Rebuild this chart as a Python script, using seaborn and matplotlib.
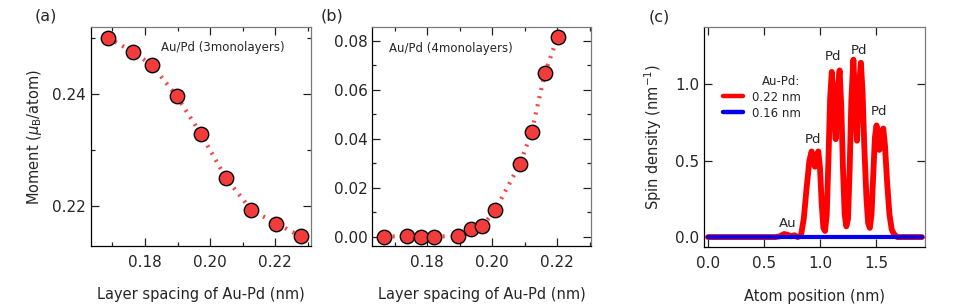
import numpy as np
import pandas as pd
import matplotlib
matplotlib.use("Agg")
import matplotlib.pyplot as plt
from matplotlib.ticker import MultipleLocator, FormatStrFormatter
import seaborn as sns

# ---------------- data ----------------
# (a) Au/Pd 3 monolayers
spacing_a = [0.1685, 0.1762, 0.1821, 0.1897, 0.1972, 0.2048, 0.2127, 0.2204, 0.2280]
moment_a = [0.2501, 0.2476, 0.2452, 0.2397, 0.2329, 0.2251, 0.2193, 0.2169, 0.2146]

# (b) Au/Pd 4 monolayers
spacing_b = [0.1668, 0.1738, 0.1781, 0.1820, 0.1894, 0.1934, 0.1970, 0.2009,
             0.2085, 0.2121, 0.2162, 0.2201]
moment_b = [0.0000, 0.0003, 0.0000, 0.0000, 0.0004, 0.0033, 0.0044, 0.0109,
            0.0297, 0.0427, 0.0669, 0.0815]

# (c) spin density profiles
pos_022 = [0.00, 0.60, 0.64, 0.68, 0.71, 0.74, 0.77, 0.80, 0.83, 0.855, 0.88,
           0.905, 0.925, 0.94, 0.955, 0.97, 0.985, 1.00, 1.015, 1.03, 1.045,
           1.06, 1.075, 1.09, 1.105, 1.125, 1.14, 1.155, 1.175, 1.19, 1.205,
           1.22, 1.235, 1.25, 1.265, 1.28, 1.298, 1.315, 1.33, 1.345, 1.365,
           1.38, 1.395, 1.415, 1.43, 1.445, 1.46, 1.475, 1.49, 1.505, 1.52,
           1.53, 1.545, 1.565, 1.58, 1.60, 1.62, 1.64, 1.66, 1.69, 1.91]
dens_022 = [0.0, 0.0, 0.005, 0.02, 0.015, 0.005, 0.012, 0.0, 0.01, 0.12, 0.32,
            0.50, 0.56, 0.50, 0.46, 0.53, 0.56, 0.45, 0.22, 0.06, 0.04,
            0.15, 0.50, 0.90, 1.08, 0.80, 0.64, 0.95, 1.09, 0.85, 0.45,
            0.15, 0.07, 0.12, 0.45, 0.90, 1.16, 0.85, 0.63, 0.95, 1.14,
            0.95, 0.60, 0.25, 0.09, 0.06, 0.15, 0.40, 0.65, 0.73, 0.62,
            0.57, 0.68, 0.71, 0.60, 0.35, 0.15, 0.05, 0.02, 0.0, 0.0]
pos_016 = [0.00, 1.91]
dens_016 = [0.0, 0.0]
series_labels = ["0.22 nm", "0.16 nm"]

peak_labels = ["Au", "Pd", "Pd", "Pd", "Pd"]
peak_x = [0.71, 0.94, 1.12, 1.35, 1.53]
peak_y = [0.09, 0.64, 1.18, 1.22, 0.82]

# ---------------- style ----------------
sns.set_theme(style="ticks")
plt.rcParams["font.family"] = ["DejaVu Sans"]
plt.rcParams["axes.linewidth"] = 0.9

RED_FILL = "#f23c3c"
RED_DOT = "#f24a4a"

fig = plt.figure(figsize=(9.70, 3.08), dpi=100)
ax_a = fig.add_axes([0.0938, 0.2013, 0.2268, 0.711])
ax_b = fig.add_axes([0.3838, 0.2013, 0.2252, 0.711])
ax_c = fig.add_axes([0.7258, 0.1990, 0.2278, 0.714])


def style_axes(ax, minor_x=None, minor_y=None):
    for s in ["left", "bottom"]:
        ax.spines[s].set_color("black")
    for s in ["top", "right"]:
        ax.spines[s].set_color("#7a7a7a")
    ax.tick_params(which="both", direction="in", top=True, right=True,
                   color="#222222", labelsize=11)
    ax.tick_params(which="major", length=6, width=0.9)
    ax.tick_params(which="minor", length=3.2, width=0.9)
    ax.tick_params(axis="x", which="major", pad=6.5)
    ax.tick_params(axis="y", which="major", pad=3.5)
    if minor_x:
        ax.xaxis.set_minor_locator(MultipleLocator(minor_x))
    if minor_y:
        ax.yaxis.set_minor_locator(MultipleLocator(minor_y))


def dotted(ax, x, y):
    sns.lineplot(x=x, y=y, ax=ax, color=RED_DOT, linestyle=(0, (0.5, 1.5)),
                 lw=3.0, estimator=None, sort=True)


# (a)
dotted(ax_a, spacing_a, moment_a)
sns.scatterplot(x=spacing_a, y=moment_a, ax=ax_a, s=108, color=RED_FILL,
                edgecolor="black", linewidth=1.0, zorder=3)
ax_a.set_xlim(0.1634, 0.2310)
ax_a.set_ylim(0.2129, 0.2520)
ax_a.xaxis.set_major_locator(MultipleLocator(0.02))
ax_a.yaxis.set_major_locator(MultipleLocator(0.02))
ax_a.xaxis.set_major_formatter(FormatStrFormatter("%.2f"))
ax_a.yaxis.set_major_formatter(FormatStrFormatter("%.2f"))
style_axes(ax_a, 0.01, 0.01)
ax_a.set_xlabel("Layer spacing of Au-Pd (nm)", fontsize=10.5, labelpad=12)
ax_a.set_ylabel(r"Moment ($\mu_{\rm B}$/atom)", fontsize=10.5, labelpad=6)
ax_a.text(0.318, 0.905, "Au/Pd (3monolayers)", transform=ax_a.transAxes,
          fontsize=8.5, va="center", ha="left")
fig.text(0.047, 0.948, "(a)", fontsize=11.5, ha="center", va="center")

# (b)
dotted(ax_b, spacing_b, moment_b)
sns.scatterplot(x=spacing_b, y=moment_b, ax=ax_b, s=108, color=RED_FILL,
                edgecolor="black", linewidth=1.0, zorder=3)
ax_b.set_xlim(0.1631, 0.2303)
ax_b.set_ylim(-0.0038, 0.0857)
ax_b.xaxis.set_major_locator(MultipleLocator(0.02))
ax_b.yaxis.set_major_locator(MultipleLocator(0.02))
ax_b.xaxis.set_major_formatter(FormatStrFormatter("%.2f"))
ax_b.yaxis.set_major_formatter(FormatStrFormatter("%.2f"))
style_axes(ax_b, 0.01, 0.01)
ax_b.set_xlabel("Layer spacing of Au-Pd (nm)", fontsize=10.5, labelpad=12)
ax_b.set_ylabel("")
ax_b.text(0.076, 0.904, "Au/Pd (4monolayers)", transform=ax_b.transAxes,
          fontsize=8.5, va="center", ha="left")
fig.text(0.342, 0.948, "(b)", fontsize=11.5, ha="center", va="center")

# (c)
df_c = pd.DataFrame({
    "pos": pos_022 + pos_016,
    "dens": dens_022 + dens_016,
    "series": [series_labels[0]] * len(pos_022) + [series_labels[1]] * len(pos_016),
})
sns.lineplot(data=df_c, x="pos", y="dens", hue="series", hue_order=series_labels,
             palette={series_labels[0]: "#ff0000", series_labels[1]: "#0000ee"},
             ax=ax_c, lw=3.2, estimator=None, sort=False)
lines_c = ax_c.get_lines()
if len(lines_c) >= 2:
    lines_c[0].set_linewidth(4.2)
    lines_c[0].set_solid_joinstyle("round")
    lines_c[1].set_linewidth(3.0)
ax_c.set_xlim(-0.036, 1.9375)
ax_c.set_ylim(-0.063, 1.375)
ax_c.xaxis.set_major_locator(MultipleLocator(0.5))
ax_c.yaxis.set_major_locator(MultipleLocator(0.5))
ax_c.xaxis.set_major_formatter(FormatStrFormatter("%.1f"))
ax_c.yaxis.set_major_formatter(FormatStrFormatter("%.1f"))
style_axes(ax_c)
ax_c.set_xlabel("Atom position (nm)", fontsize=10.5, labelpad=13)
ax_c.set_ylabel(r"Spin density (nm$^{-1}$)", fontsize=10.5, labelpad=8)
for lab, px, py in zip(peak_labels, peak_x, peak_y):
    ax_c.text(px, py, lab, fontsize=9.5, ha="center", va="center")
leg = ax_c.legend(title="Au-Pd:", loc="upper left", bbox_to_anchor=(0.05, 0.82),
                  frameon=False, fontsize=8.5, title_fontsize=8.5,
                  handlelength=1.7, handletextpad=0.7, labelspacing=0.25,
                  borderpad=0.2, alignment="right")
for h in leg.get_lines():
    h.set_linewidth(3.2)
fig.text(0.680, 0.945, "(c)", fontsize=11.5, ha="center", va="center")

fig.savefig("out.png", dpi=100)
